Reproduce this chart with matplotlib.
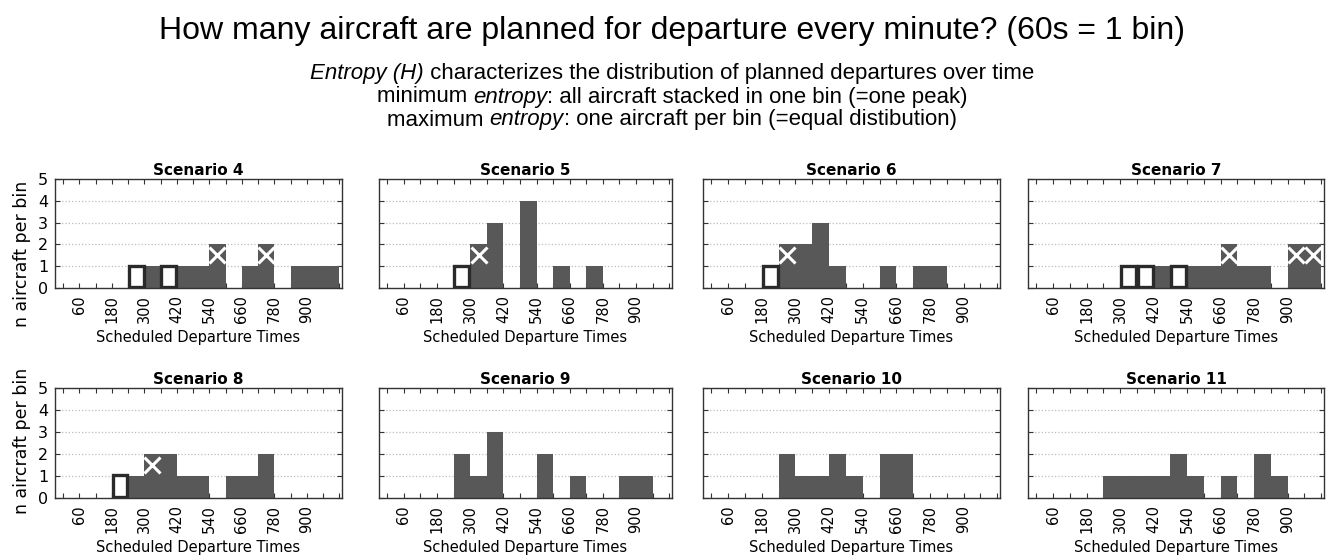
import matplotlib
matplotlib.use("Agg")
import matplotlib.pyplot as plt

# one bin = 60 s, 17 bins from 0 to 1020 s
bin_starts = list(range(0, 1020, 60))
tick_pos = list(range(0, 1021, 60))
labelled = [60, 180, 300, 420, 540, 660, 780, 900]
tick_labels = [str(t) if t in labelled else "" for t in tick_pos]

scenarios = ["Scenario 4", "Scenario 5", "Scenario 6", "Scenario 7",
             "Scenario 8", "Scenario 9", "Scenario 10", "Scenario 11"]

# aircraft planned per bin (dark bars)
counts_4 = [0, 0, 0, 0, 0, 1, 0, 1, 1, 2, 0, 1, 2, 0, 1, 1, 1]
counts_5 = [0, 0, 0, 0, 0, 2, 3, 0, 4, 0, 1, 0, 1, 0, 0, 0, 0]
counts_6 = [0, 0, 0, 0, 2, 2, 3, 1, 0, 0, 1, 0, 1, 1, 0, 0, 0]
counts_7 = [0, 0, 0, 0, 0, 0, 0, 1, 0, 1, 1, 2, 1, 1, 0, 2, 2]
counts_8 = [0, 0, 0, 0, 1, 2, 2, 1, 1, 0, 1, 1, 2, 0, 0, 0, 0]
counts_9 = [0, 0, 0, 0, 2, 1, 3, 0, 0, 2, 0, 1, 0, 0, 1, 1, 0]
counts_10 = [0, 0, 0, 0, 2, 1, 1, 2, 1, 0, 2, 2, 0, 0, 0, 0, 0]
counts_11 = [0, 0, 0, 0, 1, 1, 1, 1, 2, 1, 0, 1, 0, 2, 1, 0, 0]

# bins with an empty (white) slot
open_4 = [240, 360]
open_5 = [240]
open_6 = [180]
open_7 = [300, 360, 480]
open_8 = [180]

# bins with a crossed-out aircraft
cross_4 = [540, 720]
cross_5 = [300]
cross_6 = [240]
cross_7 = [660, 900, 960]
cross_8 = [300]

all_counts = [counts_4, counts_5, counts_6, counts_7,
              counts_8, counts_9, counts_10, counts_11]
all_open = [open_4, open_5, open_6, open_7, open_8, [], [], []]
all_cross = [cross_4, cross_5, cross_6, cross_7, cross_8, [], [], []]

head_font = "Liberation Sans"
plt.rcParams["font.family"] = ["DejaVu Sans"]

W, H = 1333, 558
fig = plt.figure(figsize=(W / 100, H / 100), dpi=100)
renderer = fig.canvas.get_renderer()


def mixed_line(yc, parts, size):
    # parts: list of (text, italic?) laid out left to right, centred
    texts = []
    for s, it in parts:
        texts.append(fig.text(0, 1 - yc / H, s, va="center", ha="left",
                              fontsize=size, family=head_font,
                              style="italic" if it else "normal"))
    widths = [t.get_window_extent(renderer).width for t in texts]
    x = 672 - sum(widths) / 2
    for t, w in zip(texts, widths):
        t.set_x(x / W)
        x += w


# title block
fig.text(672 / W, 1 - 31 / H,
         "How many aircraft are planned for departure every minute? (60s = 1 bin)",
         ha="center", va="center", fontsize=23, family=head_font)
mixed_line(73, [("Entropy (H)", True),
                (" characterizes the distribution of planned departures over time", False)], 16)
mixed_line(97, [("minimum ", False), ("entropy", True),
                (": all aircraft stacked in one bin (=one peak)", False)], 16)
mixed_line(120, [("maximum ", False), ("entropy", True),
                 (": one aircraft per bin (=equal distibution)", False)], 16)

cols = [(55, 342), (379, 672), (703, 1000), (1028, 1324)]
rows = [(179, 288), (388, 498)]
bar_col = "#585858"

for i in range(8):
    r, c = divmod(i, 4)
    l, rt = cols[c]
    t, b = rows[r]
    ax = fig.add_axes([l / W, 1 - b / H, (rt - l) / W, (b - t) / H])
    ax.set_axisbelow(True)

    ax.bar(bin_starts, all_counts[i], width=60, align="edge",
           color=bar_col, linewidth=0)
    for x0 in all_open[i]:
        ax.bar(x0 + 3, 1, width=54, align="edge", bottom=0.03,
               facecolor="white", edgecolor="#2a2a2a", linewidth=2.4)
    for x0 in all_cross[i]:
        ax.plot(x0 + 30, 1.5, marker="x", ms=11, mew=2.2, color="white")

    ax.set_xlim(-30, 1030)
    ax.set_ylim(0, 5)
    ax.set_yticks(range(6))
    ax.set_xticks(tick_pos)
    ax.set_xticklabels(tick_labels, rotation=90, fontsize=10.5)
    ax.yaxis.grid(True, linestyle=":", color="#bdbdbd", linewidth=0.9)
    ax.tick_params(direction="in", top=True, right=True, length=3.5,
                   width=0.8, pad=5, colors="#333333", labelcolor="black")
    if c == 0:
        ax.tick_params(axis="y", labelsize=11.5)
        fig.text(22 / W, 1 - (254 if r == 0 else 441) / H, "n aircraft per bin",
                 rotation=90, ha="center", va="center", fontsize=12.5)
    else:
        ax.set_yticklabels([])
    for sp in ax.spines.values():
        sp.set_color("#333333")
        sp.set_linewidth(1.0)
    ax.set_title(scenarios[i], fontsize=11, fontweight="bold", pad=3)
    ax.set_xlabel("Scheduled Departure Times", fontsize=10.5, labelpad=5)

fig.savefig("out.png", dpi=100)
